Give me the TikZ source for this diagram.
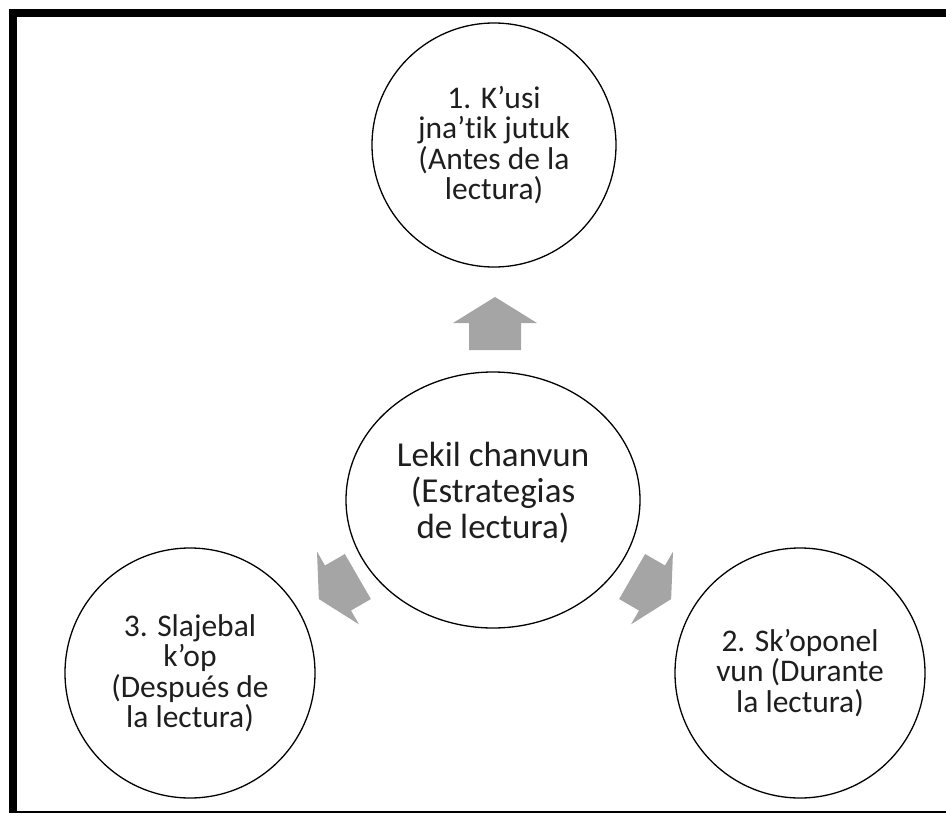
\documentclass[tikz,border=0pt]{standalone}
\usepackage{fontspec}
\setmainfont{Carlito}[Ligatures=NoCommon]
\usetikzlibrary{shapes.geometric}
\definecolor{arrowgray}{HTML}{A5A5A5}
\definecolor{inkgray}{HTML}{1E1E1E}
\tikzset{
  pics/blockarrow/.style={code={
    \fill[arrowgray] (-27,-26) -- (0,-26) -- (0,-42) -- (26,0) -- (0,42) -- (0,26) -- (-27,26) -- cycle;
  }},
}
\begin{document}
\begin{tikzpicture}[x=1pt,y=-1pt,
  stage/.style={circle, draw=black, line width=1.3pt, minimum size=250pt, inner sep=0pt,
    align=center, text=inkgray, font=\fontsize{31.5}{30.5}\selectfont},
  hub/.style={ellipse, draw=black, line width=1.3pt, minimum width=294pt, minimum height=256pt,
    inner sep=0pt, align=center, text=inkgray, text depth=20pt, font=\fontsize{35}{36}\selectfont}]
\useasboundingbox (0,0) rectangle (946,814);
% frame (left and top thick, bottom thin)
\fill[black] (9,9) rectangle (946,17);
\fill[black] (9,9) rectangle (17,813);
\fill[black] (9,811) rectangle (946,813);

% stages
\node[stage, minimum size=244pt] (before) at (494,145) {1. K’usi\\jna’tik jutuk\\(Antes de la\\lectura)};
\node[hub] (hub) at (493,500) {Lekil chanvun\\(Estrategias\\de lectura)};
\node[stage] (after) at (190,673) {3. Slajebal\\k’op\\(Después de\\la lectura)};
\node[stage] (during) at (800,673) {2. Sk’oponel\\vun (Durante\\la lectura)};

% block arrows from the hub outwards
\pic[rotate=90] at (495,323) {blockarrow};
\pic[rotate=210, xscale=0.85] at (338,588) {blockarrow};
\pic[rotate=-30, xscale=0.85] at (652,588) {blockarrow};
\end{tikzpicture}
\end{document}
